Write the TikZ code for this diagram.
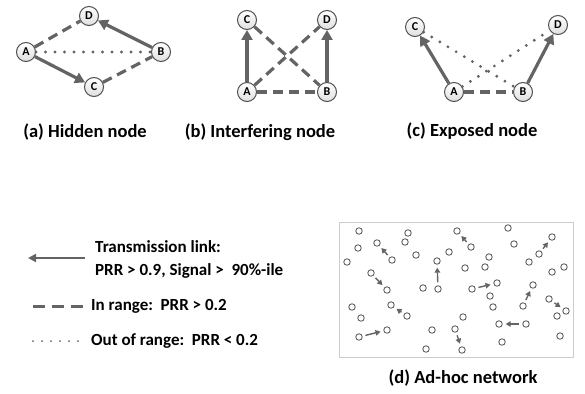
\documentclass[tikz,border=0pt]{standalone}
\usepackage{fontspec}
\setmainfont{Carlito}
\usetikzlibrary{arrows.meta,positioning}

\definecolor{linkgray}{RGB}{100,100,100}
\definecolor{nodegray}{RGB}{80,80,80}

\tikzset{
  stn/.style={circle,draw=nodegray,line width=1pt,top color=white,bottom color=gray!25,
    minimum size=19pt,inner sep=0pt,font=\bfseries\fontsize{12}{12}\selectfont},
  txlink/.style={draw=linkgray,line width=3.2pt,-{Triangle[length=10pt,width=11pt]}},
  inrange/.style={draw=linkgray,line width=3.2pt,dash pattern=on 10pt off 6pt},
  outrange/.style={draw=linkgray,line width=3.2pt,line cap=round,dash pattern=on 0pt off 9.5pt},
  subcap/.style={font=\bfseries\fontsize{18.5}{18.5}\selectfont},
  legtext/.style={anchor=west,font=\bfseries\fontsize{17}{23}\selectfont,align=left,inner sep=0pt},
  sn/.style={circle,draw=nodegray,line width=0.8pt,minimum size=6.5pt,inner sep=0pt},
  nlink/.style={draw=linkgray,line width=1.4pt,shorten <=3pt,shorten >=3pt,
    -{Triangle[length=5pt,width=5.5pt]}}
}

\begin{document}
\begin{tikzpicture}[x=1pt,y=-1pt]
\useasboundingbox (0,0) rectangle (585,393);

% (a) hidden node
\node[stn] (aA) at (26,52) {A};
\node[stn] (aB) at (161,52) {B};
\node[stn] (aC) at (94,87) {C};
\node[stn] (aD) at (89,16) {D};
\draw[inrange] (aA) -- (aD);
\draw[outrange] (aA) -- (aB);
\draw[inrange] (aC) -- (aB);
\draw[txlink] (aA) -- (aC);
\draw[txlink] (aB) -- (aD);
\node[subcap] (capa) at (85,132) {(a) Hidden node};

% (b) interfering node
\node[stn] (bA) at (247,92) {A};
\node[stn] (bB) at (327,92) {B};
\node[stn] (bC) at (247,20) {C};
\node[stn] (bD) at (327,20) {D};
\draw[inrange] (bA) -- (bB);
\draw[inrange] (bA) -- (bD);
\draw[inrange] (bC) -- (bB);
\draw[txlink] (bA) -- (bC);
\draw[txlink] (bB) -- (bD);
\node[subcap] (capb) at (260,132) {(b) Interfering node};

% (c) exposed node
\node[stn] (cA) at (454,92) {A};
\node[stn] (cB) at (523,92) {B};
\node[stn] (cC) at (415,27) {C};
\node[stn] (cD) at (558,25) {D};
\draw[inrange] (cA) -- (cB);
\draw[outrange] (cA) -- (cD);
\draw[outrange] (cC) -- (cB);
\draw[txlink] (cA) -- (cC);
\draw[txlink] (cB) -- (cD);
\node[subcap] (capc) at (472,131) {(c) Exposed node};

% legend
\coordinate (l1a) at (85,258);
\coordinate (l1b) at (28,258);
\draw[draw=linkgray,line width=2pt,-{Triangle[length=8pt,width=8pt]}] (l1a) -- (l1b);
\node[legtext] (l1t) at (95,259) {Transmission link:\\PRR > 0.9, Signal >\ \ 90\%-ile};
\coordinate (l2a) at (33,306);
\coordinate (l2b) at (83,306);
\draw[draw=linkgray,line width=3pt,dash pattern=on 12pt off 7pt] (l2a) -- (l2b);
\node[legtext] (l2t) at (91,306) {In range:\ \ PRR > 0.2};
\coordinate (l3a) at (33,341);
\coordinate (l3b) at (83,341);
\draw[draw=linkgray,line width=2pt,line cap=round,dash pattern=on 0pt off 9pt] (l3a) -- (l3b);
\node[legtext] (l3t) at (91,341) {Out of range:\ \ PRR < 0.2};

% (d) ad-hoc network
\draw[draw=gray!40,line width=0.8pt] (339,222) rectangle (573,357);
\foreach \x/\y [count=\i] in {
  359/231, 408/233, 457/231, 508/228, 358/248, 377/243, 405/242, 471/247, 514/244, 552/237,
  347/262, 392/260, 416/255, 449/252, 437/261, 489/257, 485/267, 465/268, 529/262, 539/254,
  564/267, 552/272, 371/273, 387/290, 423/288, 438/289, 472/289, 497/283, 490/296, 493/307,
  533/285, 523/306, 549/299, 566/311, 557/316, 352/307, 361/318, 391/305, 407/316, 463/317,
  455/329, 432/330, 499/324, 526/324, 359/337, 387/330, 426/349, 462/350, 502/342, 560/336}
  \node[sn] (n\i) at (\x,\y) {};
\foreach \a/\b in {12/6, 8/3, 20/10, 23/24, 26/15, 27/28, 32/31, 33/34, 39/38, 41/48, 44/43, 45/46}
  \draw[nlink] (n\a) -- (n\b);
\node[subcap] (capd) at (463,378) {(d) Ad-hoc network};
\end{tikzpicture}
\end{document}
